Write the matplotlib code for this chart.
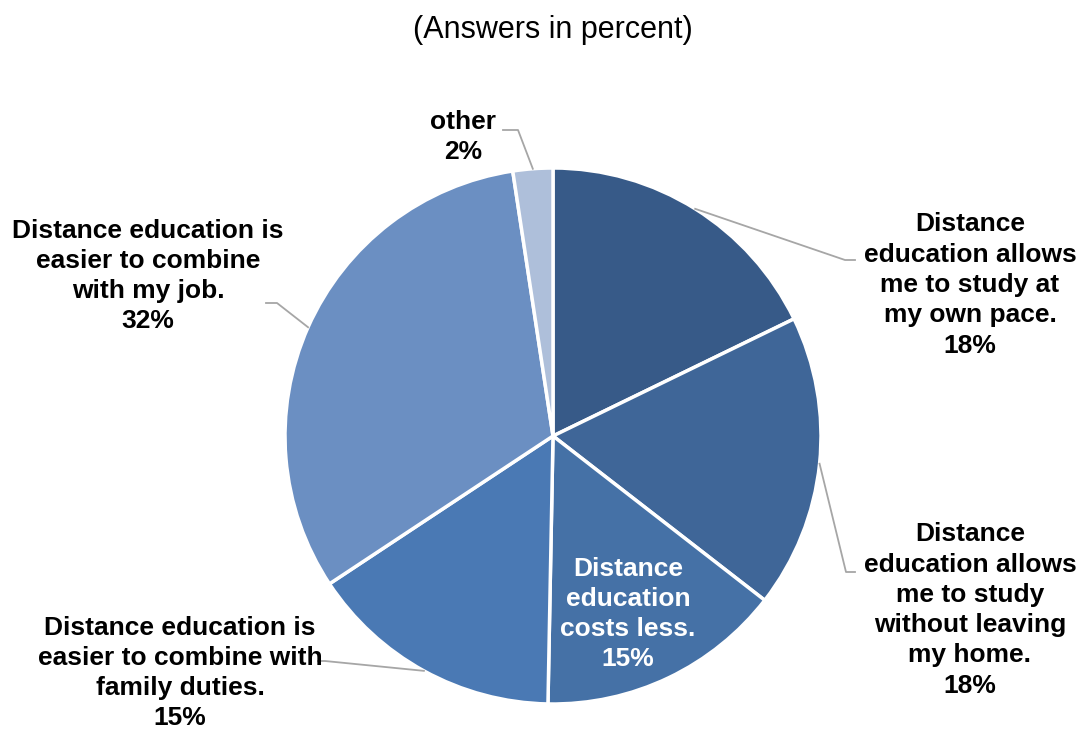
#!/usr/bin/env python3
"""
Pie chart: reasons for choosing distance education.
"""

import numpy as np
import matplotlib
matplotlib.use('Agg')
import matplotlib.pyplot as plt

plt.rcParams['font.family'] = ['Liberation Sans', 'DejaVu Sans']

# Data (clockwise from 12 o'clock)
labels = [
    "Distance\neducation allows\nme to study at\nmy own pace.",
    "Distance\neducation allows\nme to study\nwithout leaving\nmy home.",
    "Distance\neducation\ncosts less.",
    "Distance education is\neasier to combine with\nfamily duties.",
    "Distance education is\neasier to combine\nwith my job.",
    "other",
]
values = [17.8, 17.7, 14.8, 15.4, 31.9, 2.4]
colors = ['#375A88', '#3F6698', '#4571A6', '#4A79B4', '#6B8FC2', '#AEBFDA']

# Layout in figure pixels (y measured from top)
W, H = 1081, 729
center = (553, 436)
radius = 268
# label block centers, leader elbow and end points
label_pos = [(970, 285), (970, 610), (628, 614), (180, 673), (148, 276), (463, 137)]
elbows = [(845, 260), (846, 572), None, (325, 661), (277, 303), (518, 130)]
ends = [(855, 260), (855, 572), None, (318, 661), (266, 303), (503, 130)]


def fy(y):
    # convert top-based pixel y to data y
    return H - y


fig = plt.figure(figsize=(W / 100, H / 100), dpi=100)
ax = fig.add_axes([0, 0, 1, 1])

cx, cy = center
wedges, _ = ax.pie(values, colors=colors, startangle=90, counterclock=False,
                   radius=radius, center=(cx, fy(cy)), frame=True,
                   wedgeprops=dict(edgecolor='white', linewidth=2.5))
ax.set_xlim(0, W)
ax.set_ylim(0, H)
ax.set_aspect('equal')
ax.axis('off')

cum = np.cumsum([0] + values)
total = sum(values)
for i, (lab, v) in enumerate(zip(labels, values)):
    mid = (cum[i] + v / 2) / total * 2 * np.pi  # clockwise from top
    sx = cx + radius * np.sin(mid)
    sy = cy - radius * np.cos(mid)
    text = f"{lab}\n{round(v)}%"
    color = 'white' if elbows[i] is None else 'black'
    if elbows[i] is not None:
        ex, ey = elbows[i]
        gx, gy = ends[i]
        ax.plot([sx, ex, gx], [fy(sy), fy(ey), fy(gy)], color='#A6A6A6',
                lw=1.3, zorder=1)
    tx, ty = label_pos[i]
    ax.text(tx, fy(ty), text, ha='center', va='center', fontsize=19,
            fontweight='bold', color=color, linespacing=1.33, zorder=5)

ax.text(553, fy(30), "(Answers in percent)", ha='center', va='center', fontsize=22)

fig.savefig('out.png', dpi=100, facecolor='white')
